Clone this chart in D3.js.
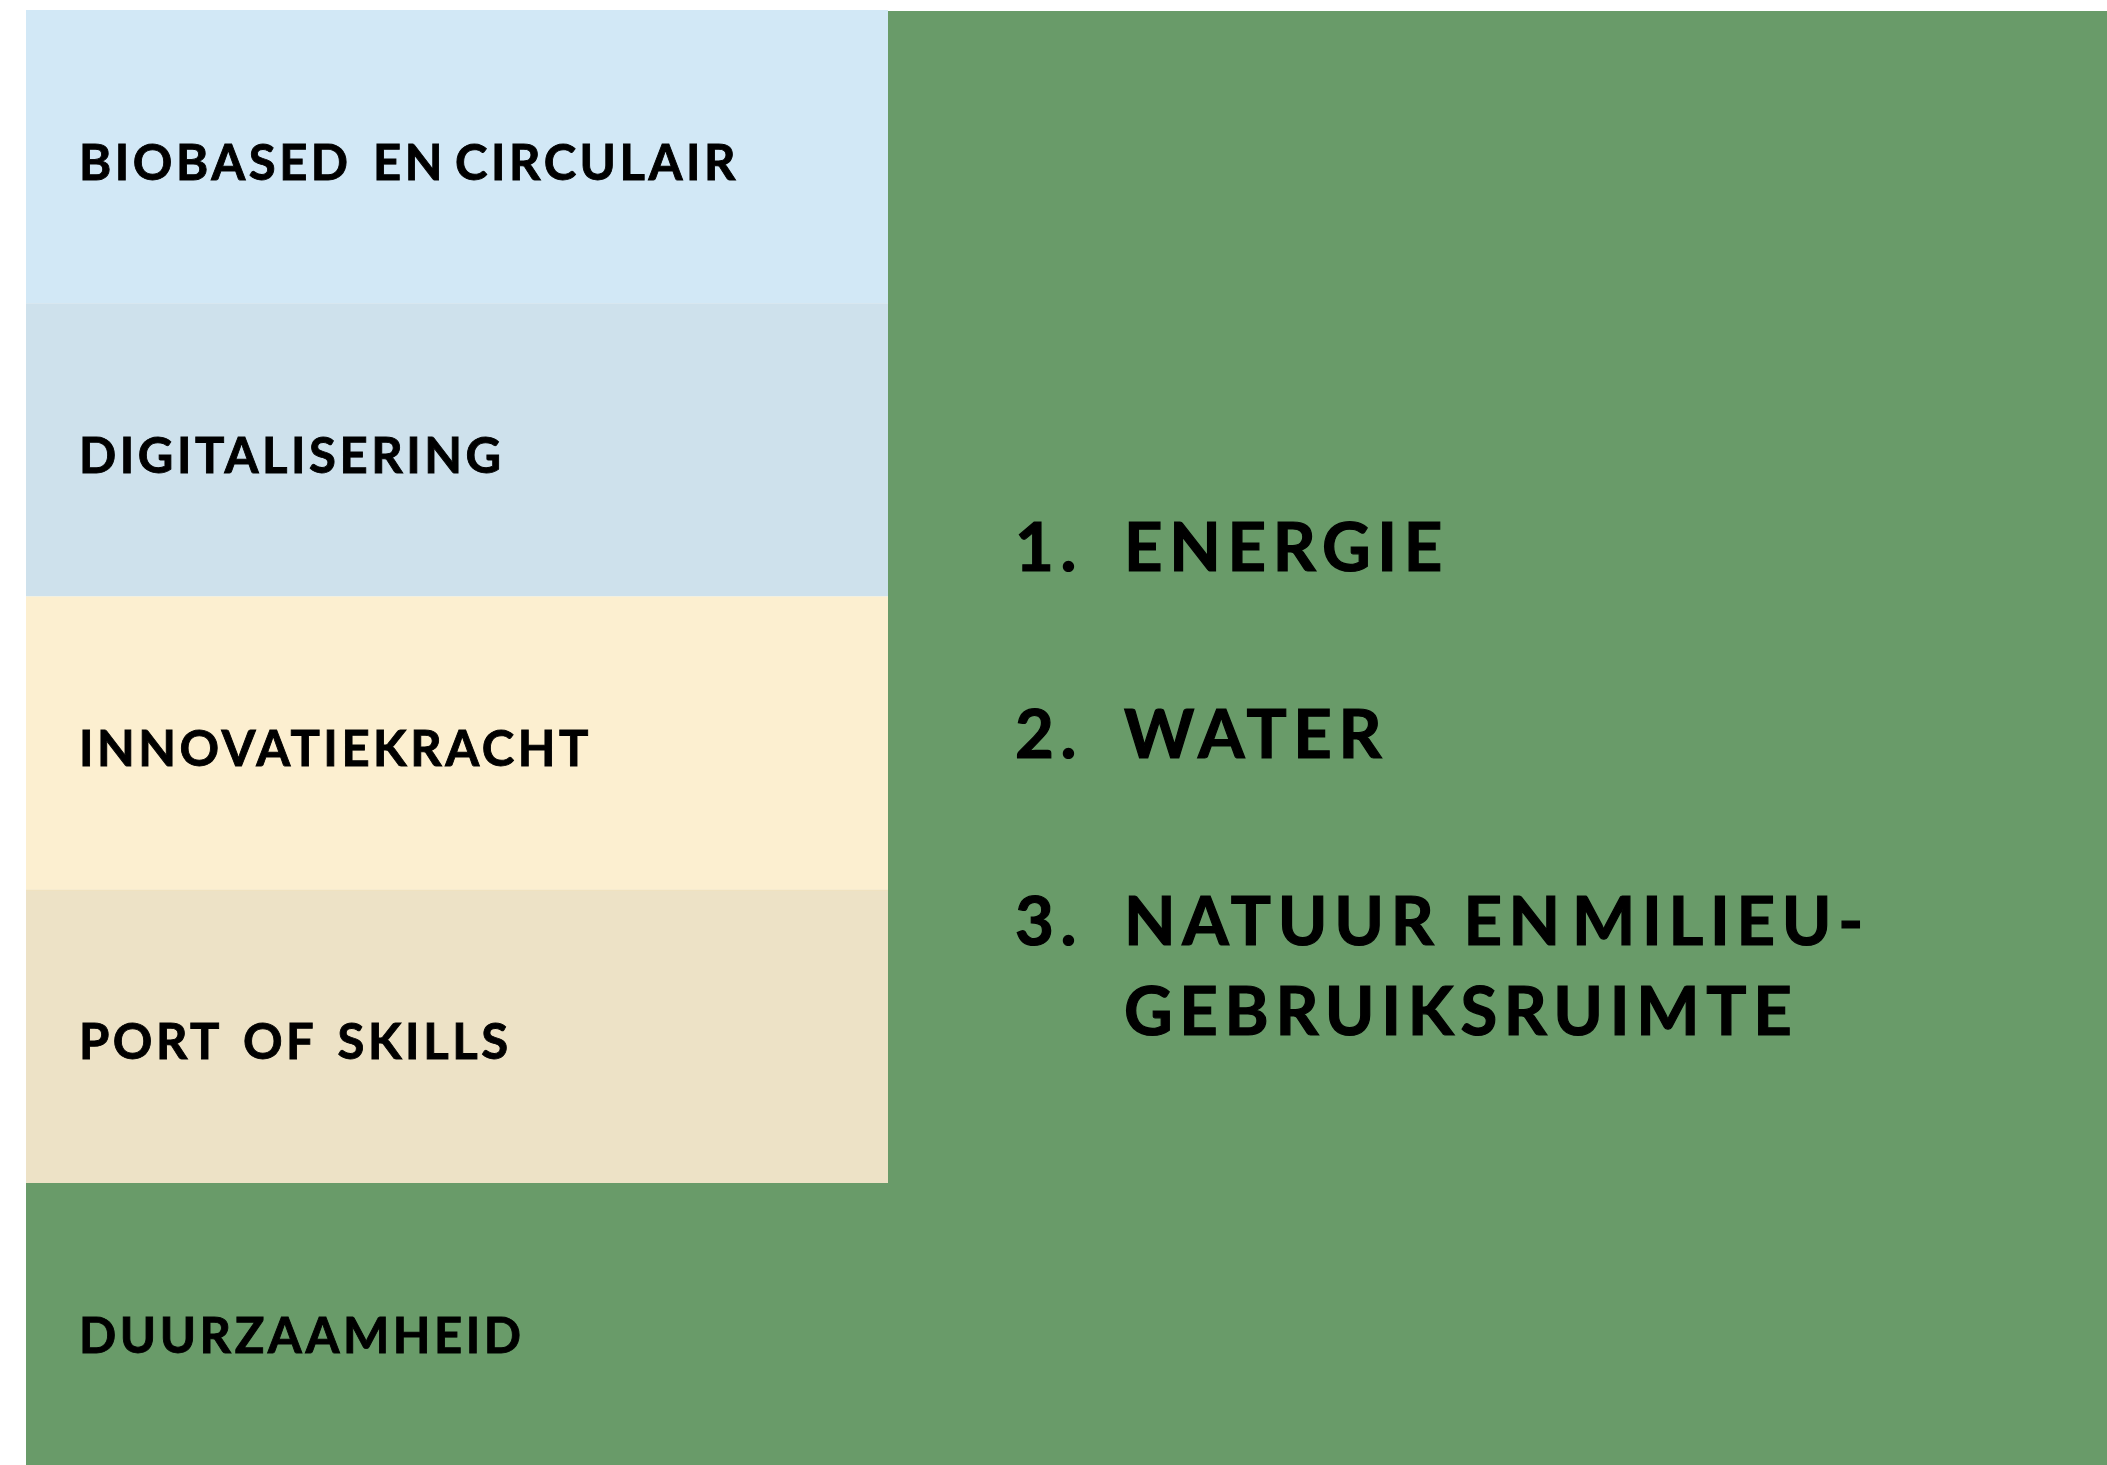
<!DOCTYPE html>
<html>
<head>
<meta charset="utf-8">
<script src="https://cdn.jsdelivr.net/npm/d3@7"></script>
<style>
  html, body { margin: 0; padding: 0; background: #ffffff; }
  svg { display: block; }
  text { font-family: Lato, "Open Sans", sans-serif; font-weight: 700; fill: #000; stroke: #000; }
</style>
</head>
<body>
<svg id="chart" width="2107" height="1465"></svg>
<script>
// ---- data ----
const categories = ["BIOBASED EN CIRCULAIR", "DIGITALISERING", "INNOVATIEKRACHT", "PORT OF SKILLS", "DUURZAAMHEID"];
const bandColors = ["#D2E8F6", "#CEE1EC", "#FCEFD0", "#EDE2C6", "#699B69"];
const itemNumbers = ["1.", "2.", "3."];
const itemLines = [["ENERGIE"], ["WATER"], ["NATUUR EN MILIEU-", "GEBRUIKSRUIMTE"]];
const panelColor = "#699B69";

(function () {
// ---- layout ----
const W = 2107, H = 1465;
const svg = d3.select("#chart");
const leftX = 26, leftRight = 888, topY = 10, bandH = 293.25;

const y = d3.scaleBand()
  .domain(categories)
  .range([topY, topY + bandH * categories.length])
  .paddingInner(0).paddingOuter(0);

const color = d3.scaleOrdinal().domain(categories).range(bandColors);

// right green panel
svg.append("rect")
  .attr("x", leftRight).attr("y", topY + 1)
  .attr("width", W - leftRight).attr("height", H - topY)
  .attr("fill", panelColor);

// bands
svg.selectAll("rect.band")
  .data(categories)
  .join("rect")
  .attr("class", "band")
  .attr("x", leftX)
  .attr("y", d => y(d))
  .attr("width", (d, i) => i === categories.length - 1 ? W - leftX : leftRight - leftX)
  .attr("height", y.bandwidth())
  .attr("fill", d => color(d));

// faint divider between cream and beige
svg.append("line")
  .attr("x1", leftX).attr("x2", leftRight)
  .attr("y1", y(categories[3]) + 0.5).attr("y2", y(categories[3]) + 0.5)
  .attr("stroke", "#F1E2BE").attr("stroke-width", 1);

// band labels
const labels = svg.selectAll("text.band-label")
  .data(categories)
  .join("text")
  .attr("class", "band-label")
  .attr("x", 79)
  .attr("y", d => y(d) + y.bandwidth() / 2 + 23)
  .style("font-size", "49px")
  .style("stroke-width", "0.9px")
  .style("word-spacing", "6px")
  .style("letter-spacing", "0.072em");

labels.each(function(d) {
  const t = d3.select(this);
  const parts = d.split(" EN ");
  if (parts.length === 2) {
    t.append("tspan").text(parts[0] + " EN");
    t.append("tspan").attr("dx", 9).text(parts[1]);
  } else {
    t.text(d);
  }
});

// numbered list in the green panel
const numX = 1015, textX = 1124, firstBase = 571, itemGap = 187, lineGap = 90;
const list = svg.selectAll("g.item")
  .data(itemNumbers)
  .join("g")
  .attr("class", "item")
  .attr("transform", (d, i) => `translate(0,${firstBase + i * itemGap})`);

list.append("text")
  .attr("x", numX).attr("y", 0)
  .style("font-size", "67px")
  .style("stroke-width", "1.2px")
  .style("letter-spacing", "0.1em")
  .text(d => d);

list.each(function(d, i) {
  const g = d3.select(this);
  itemLines[i].forEach((line, j) => {
    const t = g.append("text")
      .attr("x", textX).attr("y", j * lineGap)
      .style("font-size", "67px")
      .style("stroke-width", "1.2px")
      .style("letter-spacing", "0.1em");
    const parts = line.split(" EN ");
    if (parts.length === 2) {
      t.append("tspan").text(parts[0] + " EN");
      t.append("tspan").attr("dx", 5).text(parts[1]);
    } else {
      t.text(line);
    }
  });
});
})();
</script>
</body>
</html>
